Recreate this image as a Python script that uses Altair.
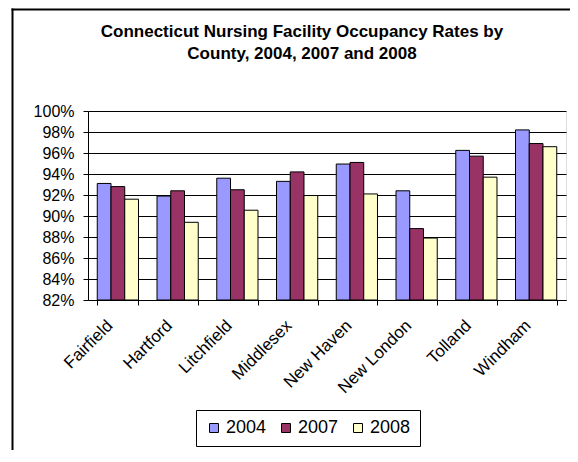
import altair as alt
import pandas as pd

counties = ["Fairfield", "Hartford", "Litchfield", "Middlesex", "New Haven",
            "New London", "Tolland", "Windham"]
years = ["2004", "2007", "2008"]
v2004 = [93.1, 91.9, 93.6, 93.3, 94.95, 92.4, 96.25, 98.2]
v2007 = [92.8, 92.4, 92.5, 94.2, 95.1, 88.8, 95.7, 96.9]
v2008 = [91.6, 89.4, 90.55, 91.95, 92.1, 87.9, 93.7, 96.6]
colors = ["#9999FF", "#993366", "#FFFFCC"]
y_ticks = [0.82, 0.84, 0.86, 0.88, 0.90, 0.92, 0.94, 0.96, 0.98, 1.00]

rows = []
for yr, vals in zip(years, [v2004, v2007, v2008]):
    for c, v in zip(counties, vals):
        rows.append({"County": c, "Year": yr, "Rate": v / 100})
df = pd.DataFrame(rows)

FONT = "Liberation Sans"

bars = alt.Chart(df).mark_bar(stroke="black", strokeWidth=1, clip=True).encode(
    x=alt.X("County:N", sort=counties, title=None,
            scale=alt.Scale(paddingInner=0.31, paddingOuter=0.155),
            axis=alt.Axis(labelAngle=-45, labelFontSize=17, labelFont=FONT,
                          labelColor="black", tickBand="extent", tickSize=5,
                          tickColor="black", domainColor="black", grid=False,
                          labelPadding=12, labelOffset=-14)),
    xOffset=alt.XOffset("Year:N", sort=years),
    y=alt.Y("Rate:Q", title=None,
            scale=alt.Scale(domain=[0.82, 1.0], zero=False, nice=False),
            axis=alt.Axis(values=y_ticks, format=".0%", labelFontSize=16,
                          labelFont=FONT, labelColor="black", tickSize=5,
                          tickColor="black", domainColor="black",
                          gridColor="black", gridOpacity=1, labelPadding=9)),
    y2=alt.datum(0.82),
    color=alt.Color("Year:N", sort=years,
                    scale=alt.Scale(domain=years, range=colors),
                    legend=alt.Legend(title=None, orient="none", direction="horizontal",
                                      legendX=108, legendY=299,
                                      symbolType="square", symbolSize=81,
                                      symbolStrokeColor="black", symbolStrokeWidth=1,
                                      labelFontSize=18, labelFont=FONT,
                                      labelColor="black", columnPadding=10,
                                      labelOffset=3, padding=9,
                                      strokeColor="black", fillColor="white",
                                      symbolOpacity=1)),
)

frame_df = pd.DataFrame({"k": [0]})
top_line = alt.Chart(frame_df).mark_rule(color="black", strokeWidth=2).encode(
    x=alt.value(-76.5), x2=alt.value(500), y=alt.value(-101.5))
left_line = alt.Chart(frame_df).mark_rule(color="black", strokeWidth=2).encode(
    x=alt.value(-75.5), y=alt.value(-102.5), y2=alt.value(360))

chart = alt.layer(bars, top_line, left_line).properties(
    width=478, height=189,
    title=alt.TitleParams(
        ["Connecticut Nursing Facility Occupancy Rates by", "County, 2004, 2007 and 2008"],
        font=FONT, fontSize=17, fontWeight="bold", color="black",
        anchor="middle", dx=-25, offset=-55, lineHeight=22),
    autosize=alt.AutoSizeParams(type="none"),
    padding={"left": 80, "top": 103, "right": 4, "bottom": 150},
).configure_view(
    fill="#C0C0C0", stroke="#808080", strokeWidth=1
).configure(background="white")

chart.save("out.html", embed_options={"renderer": "svg", "actions": False})
